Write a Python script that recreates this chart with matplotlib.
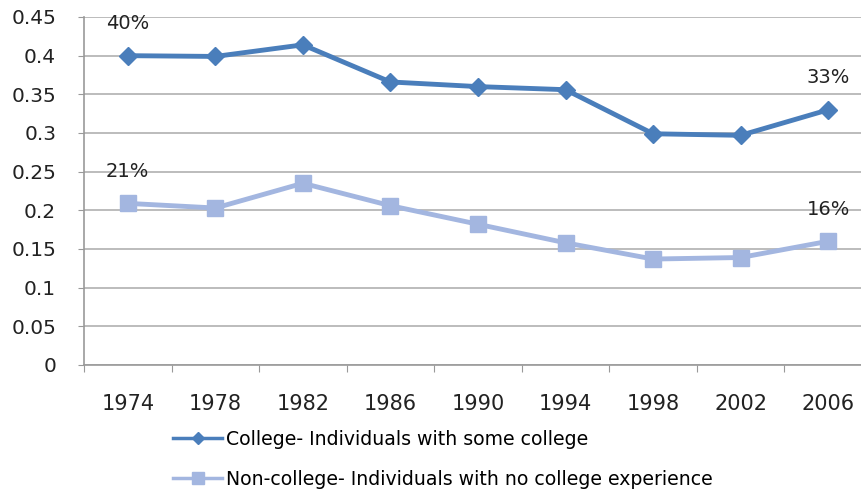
import matplotlib
matplotlib.use("Agg")
import matplotlib.pyplot as plt
import numpy as np

years = ["1974", "1978", "1982", "1986", "1990", "1994", "1998", "2002", "2006"]
college = [0.400, 0.399, 0.414, 0.366, 0.360, 0.356, 0.299, 0.297, 0.330]
non_college = [0.209, 0.203, 0.235, 0.206, 0.182, 0.158, 0.137, 0.139, 0.160]

college_label = "College- Individuals with some college"
non_college_label = "Non-college- Individuals with no college experience"

plt.rcParams["font.family"] = ["DejaVu Sans"]

fig = plt.figure(figsize=(8.61, 4.94), dpi=100)
ax = fig.add_axes([84 / 861, 129 / 494, 788 / 861, 348 / 494])

x = np.arange(len(years))

line1, = ax.plot(
    x, college,
    color="#4a7ebb",
    linewidth=3.5,
    marker="D",
    markersize=9,
    label=college_label
)

line2, = ax.plot(
    x, non_college,
    color="#a3b6e0",
    linewidth=3.5,
    marker="s",
    markersize=12,
    label=non_college_label
)

# end labels
for series in (college, non_college):
    for i in (0, len(series) - 1):
        ax.annotate(
            f"{series[i]:.0%}",
            (x[i], series[i]),
            xytext=(0, 23),
            textcoords="offset points",
            ha="center",
            va="center",
            fontsize=14,
            color="#222222"
        )

ax.set_xlim(-0.5, len(years) - 0.5)
ax.set_ylim(0, 0.45)
ax.set_yticks(np.arange(0, 0.451, 0.05))
ax.set_yticklabels(["0", "0.05", "0.1", "0.15", "0.2", "0.25", "0.3", "0.35", "0.4", "0.45"])

ax.set_xticks(np.arange(-0.5, len(years), 1.0))
ax.set_xticklabels([])
ax.set_xticks(x, minor=True)
ax.set_xticklabels(years, minor=True)

ax.tick_params(axis="y", labelsize=14.5, length=4, pad=16, color="#999999", labelcolor="#222222")
ax.tick_params(axis="x", which="major", length=5, color="#999999")
ax.tick_params(axis="x", which="minor", length=0, labelsize=15, pad=21, labelcolor="#222222")

ax.grid(axis="y", color="#b0b0b0", linewidth=1.2)
ax.set_axisbelow(True)

for side in ("top", "right"):
    ax.spines[side].set_visible(False)
for side in ("left", "bottom"):
    ax.spines[side].set_color("#999999")
    ax.spines[side].set_linewidth(1.2)

leg = fig.legend(
    handles=[line1, line2],
    loc="upper left",
    bbox_to_anchor=(156 / 861, 1 - 413 / 494),
    frameon=False,
    fontsize=13.6,
    handlelength=2.6,
    handletextpad=0.2,
    labelspacing=1.1,
    markerscale=0.7
)
for h in leg.get_lines():
    h.set_linewidth(2.5)

fig.savefig("out.png", dpi=100)
